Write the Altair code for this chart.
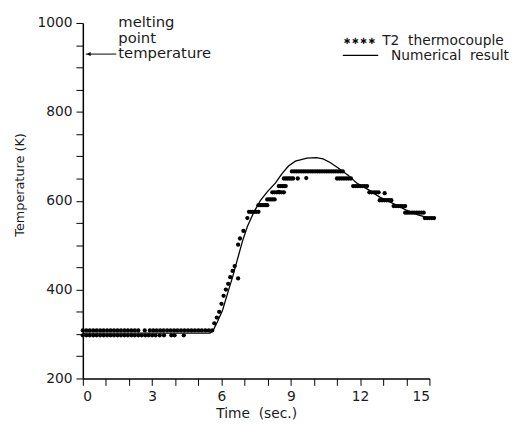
import altair as alt
import pandas as pd

# ---------------- data ----------------
# T2 thermocouple readings, grouped by quantised temperature level
base_hi_T = 308
base_hi_t = [0.0, 0.15, 0.3, 0.45, 0.6, 0.75, 0.9, 1.05, 1.2, 1.35, 1.5, 1.65, 1.8, 1.95,
             2.1, 2.25, 2.4, 2.68, 2.9, 3.05, 3.2, 3.35, 3.5, 3.65, 3.8, 3.95, 4.1, 4.25,
             4.4, 4.55, 4.7, 4.85, 5.0, 5.15, 5.3, 5.45, 5.6]
base_lo_T = 297
base_lo_t = [0.0, 0.15, 0.3, 0.45, 0.6, 0.75, 0.9, 1.05, 1.2, 1.35, 1.5, 1.65, 1.8, 1.95,
             2.1, 2.25, 2.4, 2.55, 2.7, 2.85, 3.0, 3.15, 3.33, 3.51, 3.83, 3.97, 4.37]

rise_t = [5.69, 5.8, 5.9, 6.0, 6.09, 6.19, 6.29, 6.38, 6.48, 6.57, 6.72, 6.72, 6.8, 6.95, 7.12,
          8.48, 9.67, 13.06]
rise_T = [324, 337, 350, 368, 386, 400, 413, 428, 442, 453, 425, 501, 515, 532, 561,
          620, 651, 617]

lvl_575_t = [7.19, 7.27, 7.35, 7.43, 7.51, 7.6]
lvl_590_t = [7.6, 7.68, 7.76, 7.84, 7.92, 7.98]
lvl_603_t = [7.98, 8.06, 8.14, 8.22, 8.3]
lvl_619_t = [8.2, 8.3, 8.4, 8.5, 8.6, 8.7, 12.4, 12.5, 12.6, 12.7, 12.8]
lvl_633_t = [8.48, 8.56, 8.64, 8.72, 8.78, 11.7, 11.8, 11.9, 12.0, 12.1, 12.2, 12.3]
lvl_650_t = [8.7, 8.78, 8.86, 8.94, 9.02, 9.1, 9.3, 11.0, 11.1, 11.2, 11.3, 11.4, 11.5, 11.6]
lvl_666_t = [9.05, 9.15, 9.25, 9.35, 9.45, 9.55, 9.65, 9.75, 9.85, 9.95, 10.05, 10.15,
             10.25, 10.35, 10.45, 10.55, 10.65, 10.75, 10.85, 10.95, 11.05, 11.15, 11.25]
lvl_601_t = [12.85, 12.95, 13.05, 13.15, 13.25, 13.35]
lvl_588_t = [13.45, 13.55, 13.65, 13.75, 13.85, 13.95]
lvl_573_t = [13.95, 14.05, 14.15, 14.25, 14.35, 14.45, 14.55, 14.65, 14.75]
lvl_561_t = [14.8, 14.9, 15.0, 15.1, 15.2]

# Numerical result curve
num_t = [0, 5.5, 5.62, 5.83, 6.05, 6.26, 6.48, 6.69, 6.91, 7.12, 7.41, 7.69, 7.98, 8.34,
         8.62, 8.9, 9.2, 9.7, 10.1, 10.4, 10.7, 11.13, 11.49, 11.85, 12.35, 12.85, 13.42,
         14.0, 14.5, 15.0]
num_T = [302, 302, 306, 328, 354, 391, 428, 468, 509, 542, 575, 601, 620, 640,
         661, 678, 689, 696, 697, 694, 686, 671, 657, 640, 625, 608, 594,
         579, 568, 561]

melting_point = 930
x_ticks = list(range(0, 16))
y_ticks = list(range(200, 1001, 50))

# ---------------- assemble tables ----------------
tc_t, tc_T = [], []
for ts, T in [(base_hi_t, base_hi_T), (base_lo_t, base_lo_T), (lvl_575_t, 575),
              (lvl_590_t, 590), (lvl_603_t, 603), (lvl_619_t, 619), (lvl_633_t, 633),
              (lvl_650_t, 650), (lvl_666_t, 666), (lvl_601_t, 601), (lvl_588_t, 588),
              (lvl_573_t, 573), (lvl_561_t, 561)]:
    tc_t += ts
    tc_T += [T] * len(ts)
tc_t += rise_t
tc_T += rise_T
tc = pd.DataFrame({"t": tc_t, "T": tc_T})
num = pd.DataFrame({"t": num_t, "T": num_T})
mp = pd.DataFrame({"T": [melting_point]})

FONT = "DejaVu Sans"
INK = "#1a1a1a"
SP2 = "\u00a0\u00a0"

x_enc = alt.X("t:Q",
              scale=alt.Scale(domain=[0, 15], nice=False, zero=False),
              axis=alt.Axis(values=x_ticks,
                            labelExpr="datum.value % 3 == 0 ? datum.label : ''",
                            title="Time" + SP2 + "(sec.)", titleFontSize=14, grid=False, tickSize=7,
                            labelPadding=4, titlePadding=4))
y_enc = alt.Y("T:Q",
              scale=alt.Scale(domain=[200, 1000], nice=False, zero=False),
              axis=alt.Axis(values=y_ticks, format="d",
                            labelExpr="datum.value % 200 == 0 ? datum.label : ''",
                            title="Temperature (K)", titleFontSize=13, grid=False, tickSize=7,
                            labelPadding=4, titlePadding=11, titleY=164))

points = alt.Chart(tc).mark_circle(size=19, color="black", opacity=1).encode(x=x_enc, y=y_enc)
line = alt.Chart(num).mark_line(color="black", strokeWidth=1.3).encode(x=x_enc, y=y_enc)

arrow = alt.Chart(mp).mark_rule(color="black", strokeWidth=1).encode(
    x=alt.value(3), x2=alt.value(34), y=y_enc)
arrow_head = alt.Chart(mp).mark_point(shape="triangle-left", filled=True, color="black",
                                      size=20, opacity=1).encode(x=alt.value(6), y=y_enc)

mp_text = alt.Chart(pd.DataFrame({"s": ["melting\npoint\ntemperature"]})).mark_text(
    align="left", baseline="alphabetic", lineBreak="\n", lineHeight=16,
    font=FONT, fontSize=15, color=INK).encode(
    x=alt.value(36), y=alt.value(4), text="s:N")

leg1_sym = alt.Chart(pd.DataFrame({"s": ["∗∗∗∗"]})).mark_text(
    align="left", baseline="middle", font=FONT, fontSize=10, fontWeight="bold",
    color="black").encode(x=alt.value(264), y=alt.value(18), text="s:N")
leg1 = alt.Chart(pd.DataFrame({"s": ["T2" + SP2 + "thermocouple"]})).mark_text(
    align="left", baseline="alphabetic", font=FONT, fontSize=14, color=INK).encode(
    x=alt.value(304), y=alt.value(22), text="s:N")
leg2_line = alt.Chart(pd.DataFrame({"s": [1]})).mark_rule(color="black", strokeWidth=1.3).encode(
    x=alt.value(264), x2=alt.value(300), y=alt.value(33))
leg2 = alt.Chart(pd.DataFrame({"s": ["Numerical" + SP2 + "result"]})).mark_text(
    align="left", baseline="alphabetic", font=FONT, fontSize=14, color=INK).encode(
    x=alt.value(313), y=alt.value(38), text="s:N")

chart = alt.layer(points, line, arrow, arrow_head, mp_text, leg1_sym, leg1, leg2_line, leg2).properties(
    width=352, height=361,
    autosize=alt.AutoSizeParams(type="none"),
    padding={"left": 76, "top": 12, "right": 94, "bottom": 40},
    background="white",
).configure_view(stroke=None).configure_axis(
    labelFont=FONT, titleFont=FONT, labelFontSize=14,
    titleFontWeight="normal", labelColor=INK, titleColor=INK,
    domainColor="black", domainWidth=1.5, tickColor="black", tickWidth=1,
)

chart.save("out.html", embed_options={"renderer": "svg", "actions": False})
